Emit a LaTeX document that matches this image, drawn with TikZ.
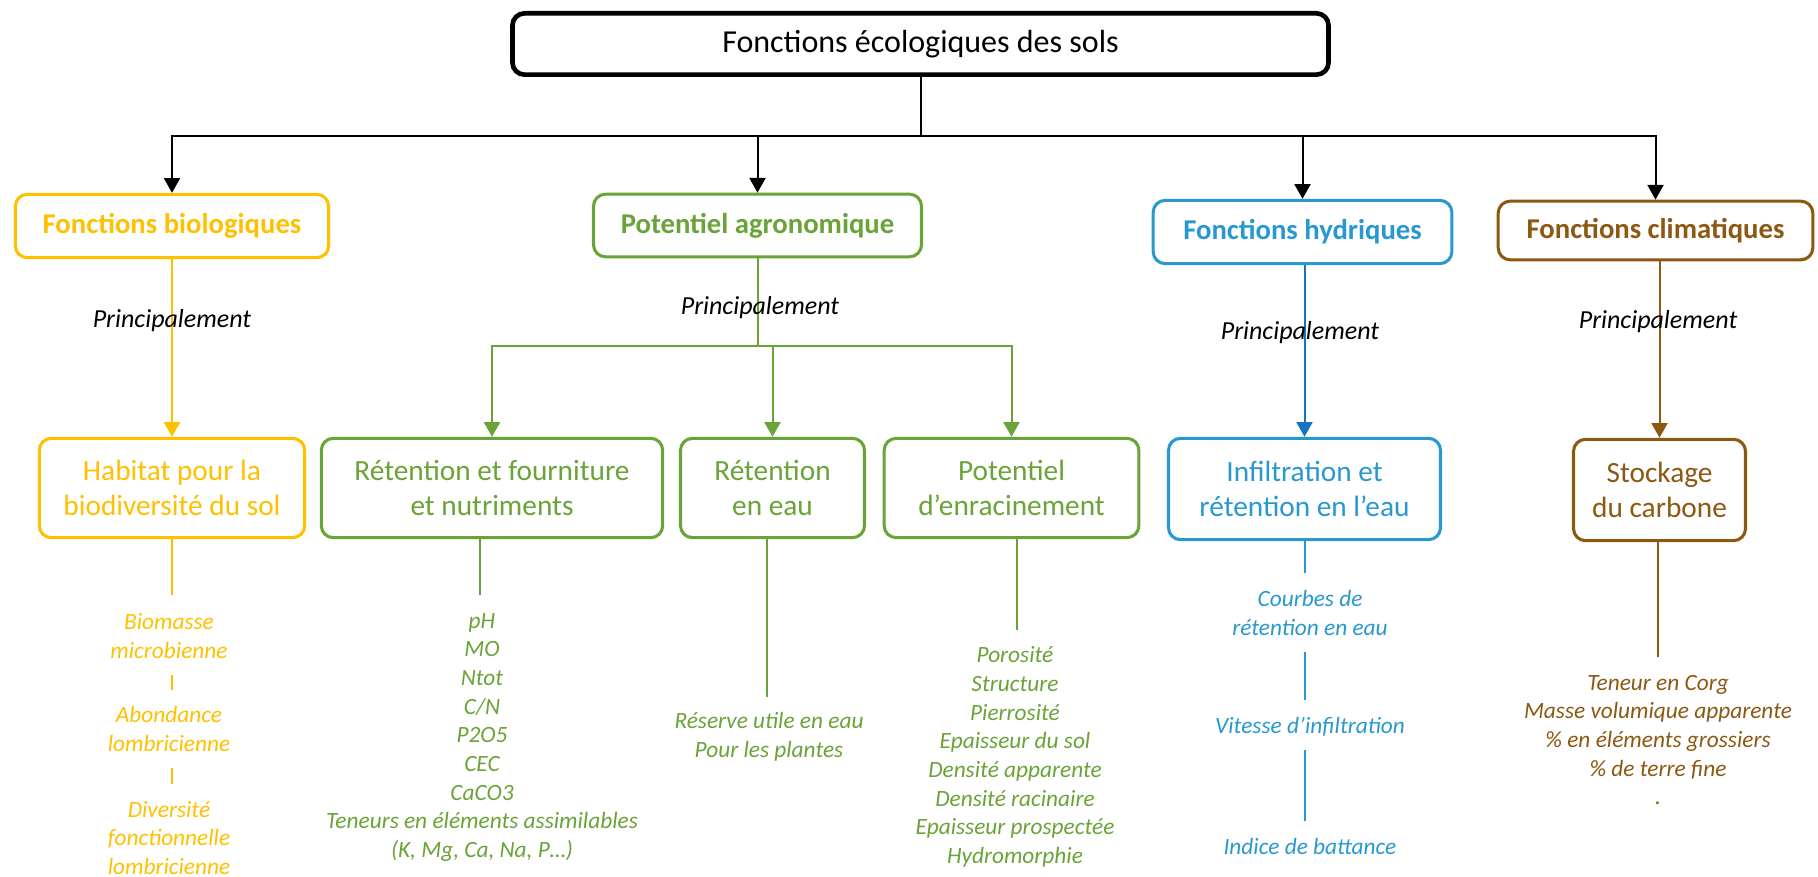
\documentclass[tikz,border=0pt]{standalone}
\usepackage{fontspec}
\setmainfont{Carlito}
\usetikzlibrary{arrows.meta}
\definecolor{cyel}{RGB}{255,192,0}
\definecolor{cgrn}{RGB}{106,163,56}
\definecolor{cblu}{RGB}{40,152,208}
\definecolor{cblua}{RGB}{20,115,195}
\definecolor{cbrn}{RGB}{140,88,18}
\tikzset{
  box/.style={draw, rounded corners=9pt, fill=white, align=center, inner sep=0pt},
  col/.style={draw=#1, text=#1},
  topbox/.style={box, line width=3.5pt, font=\fontsize{24}{29}\selectfont},
  lone/.style={box, line width=2.3pt, font=\bfseries\fontsize{21.5}{26}\selectfont},
  ltwo/.style={box, line width=2.3pt, font=\fontsize{22}{26.3}\selectfont},
  princ/.style={font=\itshape\fontsize{19.5}{24}\selectfont, inner sep=0pt},
  items/.style={font=\itshape\fontsize{17.5}{21.5}\selectfont, align=center, inner sep=0pt},
  conn/.style={line width=1.5pt},
  arr/.style={conn, -{Triangle[length=11pt,width=12pt]}}
}
\begin{document}
\begin{tikzpicture}[x=0.75pt,y=-0.75pt]
\useasboundingbox (0,0) rectangle (1818,877);

% top
\node[topbox, minimum width=612pt, minimum height=46pt] (top) at (920.5,44) {Fonctions écologiques des sols};

% level 1
\node[lone, col=cyel, minimum width=235pt, minimum height=47.5pt] (bio) at (172,226) {Fonctions biologiques};
\node[lone, col=cgrn, minimum width=246pt, minimum height=47pt] (agro) at (757.5,225.5) {Potentiel agronomique};
\node[lone, col=cblu, minimum width=224pt, minimum height=47.5pt] (hydro) at (1302.5,232) {Fonctions hydriques};
\node[lone, col=cbrn, minimum width=236pt, minimum height=44pt] (clim) at (1655.5,230.5) {Fonctions climatiques};

% level 2
\node[ltwo, col=cyel, minimum width=199pt, minimum height=74.5pt] (habitat) at (172,488) {Habitat pour la\\biodiversité du sol};
\node[ltwo, col=cgrn, minimum width=256pt, minimum height=74.5pt] (retfour) at (492,488) {Rétention et fourniture\\et nutriments};
\node[ltwo, col=cgrn, minimum width=138pt, minimum height=74.5pt] (reteau) at (772.5,488) {Rétention\\en eau};
\node[ltwo, col=cgrn, minimum width=191pt, minimum height=74.5pt] (potenr) at (1011.5,488) {Potentiel\\d’enracinement};
\node[ltwo, col=cblu, minimum width=204pt, minimum height=76pt] (infil) at (1304.5,489) {Infiltration et\\rétention en l’eau};
\node[ltwo, col=cbrn, minimum width=129pt, minimum height=76pt] (stock) at (1659.5,490) {Stockage\\du carbone};

% top connectors
\coordinate (j) at (920.5,136);
\draw[conn] (top.south) -- (j);
\draw[arr] (j) -| (bio.north);
\draw[arr] (j) -| (agro.north);
\draw[arr] (j) -| (hydro.north);
\draw[arr] (j) -| (clim.north);

% level 1 -> level 2
\draw[arr, cyel] (bio.south) -- (habitat.north);
\coordinate (aj) at (757.5,346);
\draw[conn, cgrn] (agro.south) -- (aj);
\draw[arr, cgrn] (aj) -| (retfour.north);
\draw[arr, cgrn] (aj) -| (reteau.north);
\draw[arr, cgrn] (aj) -| (potenr.north);
\draw[arr, cblua] (hydro.south -| infil.north) -- (infil.north);
\draw[arr, cbrn] (clim.south -| stock.north) -- (stock.north);

% Principalement labels
\node[princ] (pb) at (172,321) {Principalement};
\node[princ] (pa) at (760,308) {Principalement};
\node[princ] (ph) at (1300,333) {Principalement};
\node[princ] (pc) at (1658,322) {Principalement};

% lists
\node[items, cyel] (bm) at (169,636) {Biomasse\\microbienne};
\node[items, cyel] (ab) at (169,729) {Abondance\\lombricienne};
\node[items, cyel] (dv) at (169,838) {Diversité\\fonctionnelle\\lombricienne};
\node[items, cgrn] (rf) at (482,737.5) {pH\\MO\\Ntot\\C/N\\P2O5\\CEC\\CaCO3\\Teneurs en éléments assimilables\\(K, Mg, Ca, Na, P…)};
\node[items, cgrn] (re) at (769,736.5) {Réserve utile en eau\\Pour les plantes};
\node[items, cgrn] (pe) at (1015,757) {Porosité\\Structure\\Pierrosité\\Epaisseur du sol\\Densité apparente\\Densité racinaire\\Epaisseur prospectée\\Hydromorphie};
\node[items, cblu] (cb) at (1310,613) {Courbes de\\rétention en eau};
\node[items, cblu] (vi) at (1310,727) {Vitesse d’infiltration};
\node[items, cblu] (ib) at (1310,846) {Indice de battance};
\node[items, cbrn] (sc) at (1658,740) {Teneur en Corg\\Masse volumique apparente\\\% en éléments grossiers\\\% de terre fine\\.};

% lines below level 2
\coordinate (hA) at (172,595);
\coordinate (hT1a) at (172,675);
\coordinate (hT1b) at (172,690);
\coordinate (hT2a) at (172,768);
\coordinate (hT2b) at (172,784);
\draw[conn, cyel] (habitat.south) -- (hA);
\draw[conn, cyel] (hT1a) -- (hT1b);
\draw[conn, cyel] (hT2a) -- (hT2b);

\coordinate (rfL) at (480,595);
\draw[conn, cgrn] (rfL |- retfour.south) -- (rfL);
\coordinate (reL) at (767,697);
\draw[conn, cgrn] (reL |- reteau.south) -- (reL);
\coordinate (peL) at (1017,630);
\draw[conn, cgrn] (peL |- potenr.south) -- (peL);

\coordinate (iA) at (1305,573);
\coordinate (iB1) at (1305,652);
\coordinate (iB2) at (1305,700);
\coordinate (iC1) at (1305,750);
\coordinate (iC2) at (1305,821);
\draw[conn, cblu] (iA |- infil.south) -- (iA);
\draw[conn, cblu] (iB1) -- (iB2);
\draw[conn, cblu] (iC1) -- (iC2);

\coordinate (sA) at (1658,657);
\draw[conn, cbrn] (sA |- stock.south) -- (sA);
\end{tikzpicture}
\end{document}
